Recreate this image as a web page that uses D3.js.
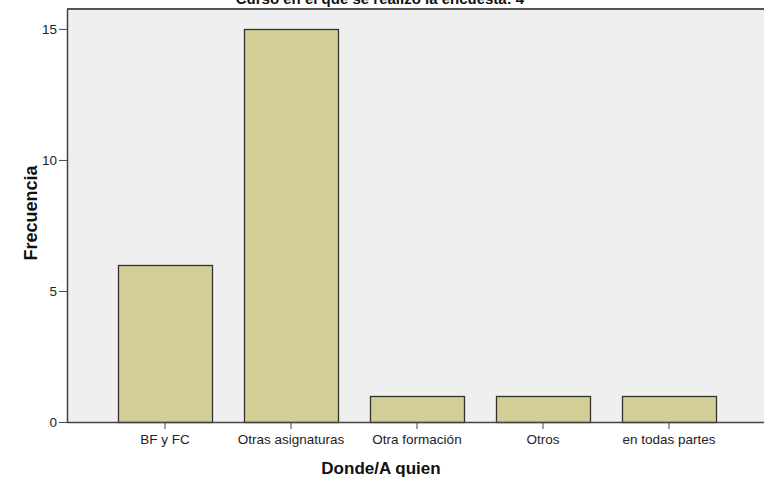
<!DOCTYPE html>
<html><head><meta charset="utf-8">
<script src="https://cdn.jsdelivr.net/npm/d3@7"></script>
<style>body{margin:0;background:#fff}svg{display:block}text{font-family:"Liberation Sans",Arial,sans-serif}</style>
</head><body>
<svg id="c" width="764" height="479"></svg>
<script>
const categories = ["BF y FC", "Otras asignaturas", "Otra formación", "Otros", "en todas partes"];
const values = [6, 15, 1, 1, 1];
const yTicks = [0, 5, 10, 15];
const title = "Curso en el que se realizó la encuesta: 4";
const xTitle = "Donde/A quien";
const yTitle = "Frecuencia";

const svg = d3.select("#c");
const L = 67, R = 767, T = 9, B = 422;
const y = d3.scaleLinear().domain([0, 15.76]).range([B, T]);
const x = d3.scaleBand().domain(categories).range([L, R]).paddingInner(0.254).paddingOuter(0.405);

svg.append("rect").attr("x", L).attr("y", T).attr("width", 764 - L).attr("height", B - T).attr("fill", "#efefef");

svg.selectAll("rect.bar").data(values).join("rect").attr("class", "bar")
  .attr("x", (d, i) => Math.round(x(categories[i])) + 0.5)
  .attr("y", d => Math.round(y(d)) + 0.5)
  .attr("width", Math.round(x.bandwidth()))
  .attr("height", d => Math.round(y(0)) - Math.round(y(d)))
  .attr("fill", "#d3ce98").attr("stroke", "#33332b").attr("stroke-width", 1.3);

// top border
svg.append("line").attr("x1", L).attr("x2", 764).attr("y1", T).attr("y2", T).attr("stroke", "#555").attr("stroke-width", 2);

const yAxis = svg.append("g").attr("transform", `translate(${L},0)`)
  .call(d3.axisLeft(y).tickValues(yTicks).tickSize(8).tickPadding(2).tickSizeOuter(0));
yAxis.select(".domain").attr("stroke", "#444").attr("stroke-width", 1.5);
yAxis.selectAll(".tick line").attr("stroke", "#444");
yAxis.selectAll(".tick text").attr("font-size", 13.5).attr("fill", "#222").attr("font-family", "Liberation Sans, Arial, sans-serif");

const xAxis = svg.append("g").attr("transform", `translate(0,${B})`)
  .call(d3.axisBottom(x).tickSize(7).tickPadding(5).tickSizeOuter(0));
xAxis.select(".domain").attr("d", `M${L},0.5H764`).attr("stroke", "#444").attr("stroke-width", 1.5);
xAxis.selectAll(".tick line").attr("stroke", "#444");
xAxis.selectAll(".tick text").attr("font-size", 13.5).attr("fill", "#222").attr("font-family", "Liberation Sans, Arial, sans-serif");

svg.append("text").attr("x", 380).attr("y", 4).attr("text-anchor", "middle")
  .attr("font-size", 15).attr("font-weight", "bold").attr("fill", "#111").text(title);
svg.append("text").attr("x", 381).attr("y", 474).attr("text-anchor", "middle")
  .attr("font-size", 17).attr("font-weight", "bold").attr("fill", "#111").text(xTitle);
svg.append("text").attr("transform", "translate(37,213) rotate(-90)").attr("text-anchor", "middle")
  .attr("font-size", 18).attr("font-weight", "bold").attr("fill", "#111").text(yTitle);
</script>
</body></html>
